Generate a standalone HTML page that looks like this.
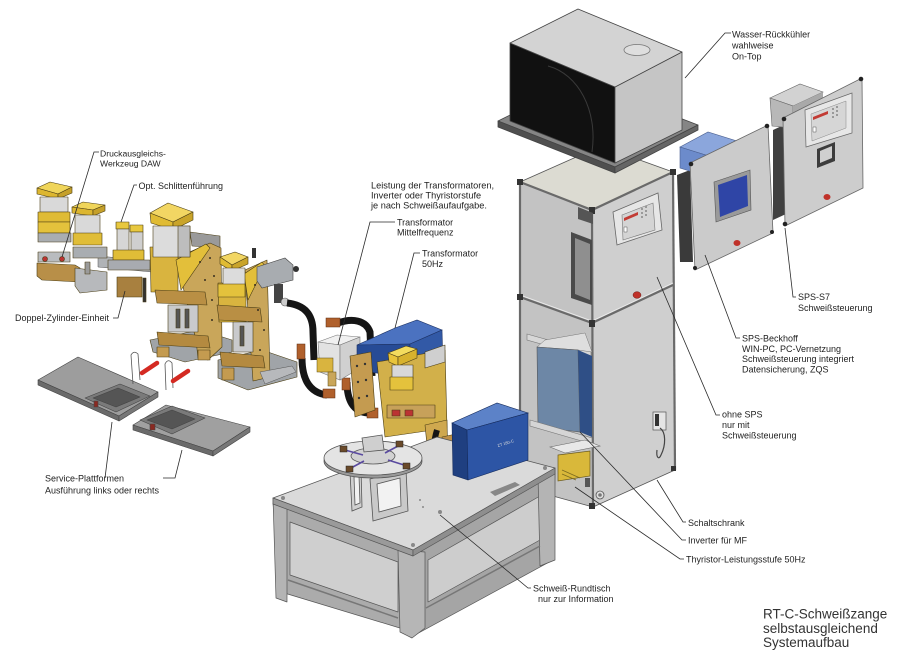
<!DOCTYPE html>
<html><head><meta charset="utf-8"><style>
html,body{margin:0;padding:0;background:#fff;width:900px;height:651px;overflow:hidden}
svg{display:block}
text{font-family:"Liberation Sans",Arial,sans-serif;fill:#1e1e1e;font-size:9px}
</style></head><body>
<svg width="900" height="651" viewBox="0 0 900 651" xmlns="http://www.w3.org/2000/svg">
<rect width="900" height="651" fill="#fff"/>

<!-- ================= CABINET ================= -->
<g stroke="#555" stroke-width="0.8" stroke-linejoin="round">
<polygon points="520,182 601,146 673,172 592,210" fill="#dcdbd2"/>
<polygon points="520,182 592,210 593,507 520,487" fill="#c3c3c3"/>
<polygon points="592,210 673,172 675,470 593,507" fill="#cfcfcf"/>
</g>
<g stroke="#6a6a6a" stroke-width="2.2" fill="none">
<polyline points="520,182 592,210 673,172"/>
<line x1="592" y1="210" x2="593" y2="507"/>
<line x1="520" y1="182" x2="520" y2="487"/>
<line x1="673" y1="172" x2="675" y2="470"/>
<line x1="520" y1="297" x2="592" y2="323"/>
<line x1="592" y1="323" x2="673" y2="285"/>
</g>
<g stroke="#eee" stroke-width="0.7" fill="none">
<line x1="520" y1="295" x2="592" y2="321"/>
<line x1="592" y1="321" x2="673" y2="283"/>
</g>
<g fill="#333">
<rect x="517" y="179" width="6" height="6"/><rect x="589" y="207" width="6" height="7"/>
<rect x="670" y="169" width="6" height="6"/><rect x="517" y="294" width="6" height="6"/>
<rect x="589" y="320" width="6" height="7"/><rect x="589" y="503" width="6" height="6"/>
<rect x="671" y="466" width="5" height="5"/>
</g>
<polygon points="578,207 593,213 593,224 578,219" fill="#555"/>
<polygon points="571,232 592,240 592,305 571,298" fill="#4a4a4a"/>
<polygon points="575,238 590,244 590,300 575,294" fill="#8f8f8f"/>
<polygon points="527,334 591,352 591,358 527,340" fill="#d7d7d7" stroke="#777" stroke-width="0.6"/>
<polygon points="545,340 585,333 592,352 578,350 537,347" fill="#dedede" stroke="#777" stroke-width="0.5"/>
<polygon points="537,347 578,350 580,432 538,427" fill="#6d87a6" stroke="#555" stroke-width="0.6"/>
<polygon points="578,350 592,356 592,437 580,432" fill="#2f4f86"/>
<polygon points="530,420 592,438 592,444 530,426" fill="#d5d5d5" stroke="#777" stroke-width="0.6"/>
<polygon points="550,447 585,440 600,446 565,453" fill="#e8e8e8" stroke="#666" stroke-width="0.6"/>
<polygon points="558,455 590,451 590,476 558,481" fill="#d9b83a" stroke="#6b5a1d" stroke-width="0.7"/>
<g stroke="#7a6a20" stroke-width="0.8"><line x1="562" y1="470" x2="580" y2="478"/><line x1="562" y1="474" x2="576" y2="480"/></g>
<rect x="585" y="478" width="5" height="9" fill="#555"/>
<polygon points="613,212 658,193 662,230 617,245" fill="#e6e6e6" stroke="#666" stroke-width="0.8"/>
<polygon points="622,215 653,203 655,230 623,240" fill="#d4d4d4" stroke="#777" stroke-width="0.6"/>
<polygon points="624,218 638,212 638,215 624,221" fill="#c23b34"/>
<g fill="#999"><rect x="641" y="208" width="2" height="2"/><rect x="645" y="206" width="2" height="2"/><rect x="641" y="212" width="2" height="2"/><rect x="645" y="210" width="2" height="2"/><rect x="641" y="216" width="2" height="2"/><rect x="645" y="214" width="2" height="2"/></g>
<rect x="624" y="227" width="3" height="5" fill="#fff" stroke="#333" stroke-width="0.4"/>
<ellipse cx="637" cy="295" rx="4" ry="3.3" fill="#c0322a" stroke="#6a1a14" stroke-width="0.5"/>
<rect x="653" y="412" width="13" height="18" fill="#e5e5e5" stroke="#555" stroke-width="0.7"/>
<rect x="655" y="414" width="4" height="12" fill="#333"/>
<path d="M660,428 C666,432 666,445 661,455 C659,460 656,458 657,450" stroke="#444" stroke-width="1.2" fill="none"/>
<circle cx="600" cy="495" r="4" fill="#ddd" stroke="#555" stroke-width="0.8"/>
<circle cx="600" cy="495" r="1.8" fill="#777"/>

<!-- ================= CHILLER ================= -->
<g stroke="#444" stroke-width="0.8" stroke-linejoin="round">
<polygon points="498,121 581,80 698,125 615,167" fill="#858585"/>
<polygon points="498,121 615,167 615,173 498,127" fill="#4f4f4f"/>
<polygon points="615,167 698,125 698,130 615,173" fill="#656565"/>
<polygon points="510,43 615,87 615,163 510,121" fill="#111"/>
<polygon points="615,87 682,52 682,130 615,163" fill="#c5c5c5"/>
<polygon points="510,43 578,9 682,52 615,87" fill="#d3d3d3"/>
</g>
<path d="M548,66 C578,74 598,110 592,152" stroke="#3a3a3a" stroke-width="1" fill="none"/>
<ellipse cx="637" cy="50" rx="13" ry="5.5" fill="#dedede" stroke="#777" stroke-width="0.8"/>

<!-- ================= RIGHT PANELS ================= -->
<polygon points="677,175 690,170 693,262 680,262" fill="#3a3a3a"/>
<g stroke="#4a5f90" stroke-width="0.6">
<polygon points="680,147 708,132 740,142 712,157" fill="#8ba6dc"/>
<polygon points="680,147 712,157 712,178 680,168" fill="#6c8bcb"/>
</g>
<polygon points="690,163 768,125 773,233 695,270" fill="#cbcbcb" stroke="#666" stroke-width="0.8"/>
<g fill="#222"><circle cx="691" cy="164" r="2.3"/><circle cx="767" cy="126" r="2.3"/><circle cx="772" cy="232" r="2"/><circle cx="695" cy="268" r="2"/></g>
<polygon points="714,182 750,170 751,210 716,222" fill="#9a9a9a" stroke="#555" stroke-width="0.6"/>
<polygon points="718,185 747,175 748,206 720,217" fill="#2f45a6"/>
<ellipse cx="737" cy="243" rx="3.5" ry="3" fill="#c0322a"/>
<polygon points="773,130 786,124 786,214 773,220" fill="#404040"/>
<polygon points="770,98 800,84 823,92 793,106" fill="#d2d2d2" stroke="#666" stroke-width="0.6"/>
<polygon points="770,98 793,106 793,128 772,126" fill="#b8b8b8" stroke="#666" stroke-width="0.6"/>
<polygon points="793,106 823,92 823,112 793,128" fill="#a9a9a9"/>
<polygon points="783,118 862,78 863,188 785,226" fill="#cdcdcd" stroke="#666" stroke-width="0.8"/>
<g fill="#222"><circle cx="784" cy="119" r="2.3"/><circle cx="861" cy="79" r="2.3"/><circle cx="785" cy="224" r="2.3"/></g>
<polygon points="805,110 852,93 852,133 806,147" fill="#e7e7e7" stroke="#666" stroke-width="0.7"/>
<polygon points="811,114 846,101 846,128 812,141" fill="#d6d6d6" stroke="#888" stroke-width="0.5"/>
<polygon points="813,117 828,111 828,114 813,120" fill="#c23b34"/>
<g fill="#999"><rect x="832" y="108" width="2" height="2"/><rect x="836" y="106" width="2" height="2"/><rect x="832" y="112" width="2" height="2"/><rect x="836" y="110" width="2" height="2"/><rect x="832" y="116" width="2" height="2"/><rect x="836" y="114" width="2" height="2"/></g>
<rect x="813" y="127" width="3" height="5" fill="#fff" stroke="#333" stroke-width="0.4"/>
<polygon points="817,149 835,142 835,161 817,168" fill="#3c3c3c"/>
<polygon points="820,151 832,146 832,158 820,163" fill="#cfcfcf"/>
<ellipse cx="827" cy="197" rx="3.5" ry="3" fill="#c0322a"/>

<!-- ================= SERVICE PLATFORMS ================= -->
<g stroke="#444" stroke-width="0.6" stroke-linejoin="round">
<polygon points="38,380 78,357 158,392 119,416" fill="#9d9d9d"/>
<polygon points="38,380 119,416 119,421 38,385" fill="#6a6a6a"/>
<polygon points="119,416 158,392 158,397 119,421" fill="#777"/>
<polygon points="85,398 120,384 150,396 116,412" fill="#7a7a7a"/>
<polygon points="93,398 118,388 140,397 116,407" fill="#555"/>
<rect x="94" y="401" width="4" height="6" fill="#8a2a22"/>
<polygon points="133,425 166,405 250,427 213,451" fill="#a0a0a0"/>
<polygon points="133,425 213,451 213,456 133,430" fill="#6a6a6a"/>
<polygon points="213,451 250,427 250,432 213,456" fill="#777"/>
<polygon points="140,420 172,406 205,418 172,434" fill="#7a7a7a"/>
<polygon points="147,420 172,410 195,419 172,429" fill="#555"/>
<rect x="150" y="424" width="5" height="6" fill="#8a2a22"/>
</g>
<g fill="none" stroke="#555" stroke-width="0.8">
<path d="M133,384 L131,355 Q134,350 138,354 L140,380"/>
<path d="M166,390 L165,364 Q168,358 172,363 L173,388"/>
</g>
<g stroke="#d42a22" stroke-width="4.5" stroke-linecap="round">
<line x1="142" y1="373" x2="157" y2="363"/>
<line x1="173" y1="381" x2="188" y2="371"/>
</g>

<!-- ================= LEFT TONGS ================= -->
<polygon points="98,256 152,261 152,272 98,267" fill="#b0b3b6" stroke="#555" stroke-width="0.5"/>
<g stroke="#4a3d14" stroke-width="0.6" stroke-linejoin="round">
<!-- unit A -->
<polygon points="37,188 50,182 72,187 58,194" fill="#f0d55a"/>
<polygon points="37,188 58,194 58,199 37,194" fill="#dcb630"/>
<polygon points="58,194 72,187 72,193 58,199" fill="#c5a02a"/>
<rect x="40" y="197" width="28" height="15" fill="#d9d9d9"/>
<rect x="38" y="212" width="32" height="10" fill="#dfbb35"/>
<rect x="38" y="222" width="32" height="11" fill="#e4c23c"/>
<rect x="38" y="233" width="33" height="9" fill="#a9adb1"/>
<rect x="38" y="252" width="32" height="10" fill="#b9bcbf"/>
<polygon points="37,263 75,265 80,268 80,282 42,280 37,276" fill="#b88f48"/>
<circle cx="45" cy="259" r="2.5" fill="#b33"/><circle cx="62" cy="259" r="2.5" fill="#b33"/>
<!-- unit B -->
<polygon points="72,207 83,202 105,205 93,210" fill="#f0d55a"/>
<polygon points="72,207 93,210 93,216 72,213" fill="#dcb630"/>
<polygon points="93,210 105,205 105,211 93,216" fill="#c5a02a"/>
<rect x="75" y="215" width="25" height="19" fill="#d9d9d9"/>
<rect x="73" y="233" width="29" height="12" fill="#e0bd37"/>
<rect x="73" y="247" width="34" height="11" fill="#a9adb1"/>
<polygon points="75,268 107,272 107,290 80,293 75,286" fill="#b7b9bc"/>
<rect x="85" y="262" width="5" height="12" fill="#9a9a9a"/>
<!-- small double -->
<rect x="116" y="222" width="13" height="7" fill="#e8c83f"/>
<rect x="130" y="225" width="13" height="7" fill="#e8c83f"/>
<rect x="117" y="229" width="12" height="22" fill="#d6d6d6"/>
<rect x="131" y="232" width="12" height="19" fill="#cfcfcf"/>
<rect x="113" y="250" width="31" height="10" fill="#e0bd37"/>
<rect x="108" y="260" width="42" height="10" fill="#a8abb0"/>
<rect x="117" y="277" width="25" height="20" fill="#a8803f"/>
<rect x="143" y="278" width="3" height="24" fill="#333"/>
<!-- big tong 1 -->
<polygon points="150,340 200,330 232,340 232,352 185,362 153,352" fill="#a0a4a8"/>
<polygon points="190,232 220,236 220,248 192,246" fill="#9a9a9a"/>
<polygon points="176,258 210,243 221,248 222,347 208,360 198,358 196,340" fill="#c9a65a"/>
<polygon points="150,247 178,247 178,292 151,292" fill="#d9b43f"/>
<polygon points="176,260 206,244 210,248 181,290" fill="#e3bf3a"/>
<polygon points="150,213 168,203 193,212 173,222" fill="#f2d663"/>
<polygon points="150,213 173,222 173,230 151,223" fill="#e0bb33"/>
<polygon points="173,222 193,212 193,220 173,230" fill="#c9a42a"/>
<rect x="153" y="226" width="37" height="31" fill="#dcdcdc"/>
<rect x="178" y="226" width="12" height="31" fill="#bdbdbd"/>
<polygon points="155,290 205,292 207,305 157,303" fill="#b98f44"/>
<rect x="168" y="305" width="30" height="27" fill="#c9cacc"/>
<rect x="176" y="309" width="4" height="19" fill="#555"/>
<rect x="185" y="309" width="4" height="19" fill="#555"/>
<polygon points="157,332 208,336 210,348 159,345" fill="#b48a40"/>
<rect x="157" y="347" width="12" height="10" fill="#c49b50"/>
<rect x="198" y="350" width="12" height="10" fill="#c49b50"/>
<!-- big tong 2 -->
<polygon points="218,360 262,350 297,362 297,377 248,390 218,378" fill="#a0a4a8"/>
<polygon points="245,270 267,260 270,377 253,381" fill="#c9a65a"/>
<polygon points="218,283 246,283 246,322 219,322" fill="#d9b43f"/>
<polygon points="244,274 262,262 265,266 248,300" fill="#e3bf3a"/>
<polygon points="220,257 235,252 248,257 232,265" fill="#f2d663"/>
<polygon points="220,257 232,265 232,271 220,264" fill="#e0bb33"/>
<polygon points="232,265 248,257 248,264 232,271" fill="#c9a42a"/>
<rect x="223" y="268" width="22" height="18" fill="#dcdcdc"/>
<rect x="218" y="284" width="27" height="13" fill="#e4c23c"/>
<polygon points="217,305 260,308 262,322 219,320" fill="#b98f44"/>
<rect x="233" y="322" width="20" height="30" fill="#c9cacc"/>
<rect x="240" y="326" width="4" height="20" fill="#555"/>
<polygon points="220,352 263,356 265,368 222,366" fill="#b48a40"/>
<rect x="222" y="368" width="12" height="12" fill="#c49b50"/>
</g>
<g fill="#3a3020"><circle cx="200" cy="262" r="1"/><circle cx="210" cy="258" r="1"/><circle cx="205" cy="280" r="1"/><circle cx="214" cy="276" r="1"/><circle cx="212" cy="300" r="1"/><circle cx="212" cy="320" r="1"/><circle cx="255" cy="285" r="1"/><circle cx="262" cy="280" r="1"/><circle cx="258" cy="310" r="1"/><circle cx="264" cy="330" r="1"/><circle cx="260" cy="350" r="1"/></g>
<rect x="252" y="248" width="4" height="10" fill="#333"/>
<polygon points="257,267 285,258 293,265 293,280 262,288 257,281" fill="#a8acb0" stroke="#444" stroke-width="0.6"/>
<circle cx="296" cy="269" r="3" fill="#333"/>
<rect x="274" y="284" width="9" height="19" fill="#444"/>
<circle cx="285" cy="302" r="4" fill="#ccc" stroke="#555" stroke-width="0.6"/>

<!-- ================= MIDDLE CABLES / MF TRAFO ================= -->
<g fill="none" stroke="#151515" stroke-width="7" stroke-linecap="butt">
<path d="M287,303 C305,305 313,315 313,332 L314,360"/>
<path d="M302,358 C302,380 310,393 327,395"/>
<path d="M338,323 C352,318 366,320 370,332 L372,376"/>
<path d="M347,382 C347,400 353,412 368,413"/>
</g>
<g fill="#b0602c" stroke="#5a2a10" stroke-width="0.5">
<rect x="297" y="344" width="8" height="15"/>
<rect x="323" y="389" width="12" height="9"/>
<rect x="326" y="318" width="14" height="9"/>
<rect x="367" y="408" width="11" height="10"/>
<rect x="342" y="378" width="8" height="12"/>
</g>
<polygon points="318,342 337,335 360,337 340,345" fill="#f0f0f0" stroke="#777" stroke-width="0.6"/>
<polygon points="318,342 340,345 340,380 320,372" fill="#e2e2e2" stroke="#777" stroke-width="0.6"/>
<polygon points="340,345 360,337 360,368 340,380" fill="#d0d0d0" stroke="#777" stroke-width="0.6"/>
<rect x="317" y="358" width="16" height="14" fill="#d9b43f" stroke="#5a4a14" stroke-width="0.5"/>
<rect x="328" y="372" width="8" height="14" fill="#c9a65a" stroke="#5a4a14" stroke-width="0.5"/>
<polygon points="260,372 292,366 296,372 265,384" fill="#b7b9bc" stroke="#555" stroke-width="0.5"/>

<!-- ================= TABLE TONG ================= -->
<g stroke="#1d3264" stroke-width="0.6">
<polygon points="357,345 395,328 417,320 442,330 410,344" fill="#4b72c0"/>
<polygon points="357,345 410,344 410,378 357,370" fill="#274b96"/>
<polygon points="410,344 442,330 443,365 410,378" fill="#3259a6"/>
</g>
<g stroke="#4a3d14" stroke-width="0.6" stroke-linejoin="round">
<polygon points="350,356 371,352 375,410 355,417" fill="#c49b50"/>
<polygon points="377,362 445,350 447,428 385,437" fill="#d2b04a"/>
<polygon points="388,353 406,346 417,349 398,357" fill="#f3dc5e"/>
<polygon points="388,353 398,357 398,366 389,362" fill="#e8c43a"/>
<polygon points="398,357 417,349 417,358 398,366" fill="#d7b22e"/>
<rect x="392" y="365" width="21" height="14" fill="#d8d8d8"/>
<rect x="390" y="377" width="23" height="13" fill="#e4c23c"/>
<polygon points="425,352 445,345 445,362 425,368" fill="#cfcfcf"/>
<rect x="387" y="405" width="48" height="13" fill="#c7a15a"/>
<rect x="392" y="410" width="8" height="6" fill="#b33"/>
<rect x="405" y="410" width="8" height="6" fill="#b33"/>
<polygon points="425,425 447,420 448,470 430,475" fill="#cfa84f"/>
<polygon points="442,437 465,432 467,495 445,500" fill="#bf9148"/>
</g>
<g fill="#333"><circle cx="357" cy="366" r="1.2"/><circle cx="365" cy="364" r="1.2"/><circle cx="358" cy="382" r="1.2"/><circle cx="366" cy="380" r="1.2"/><circle cx="359" cy="398" r="1.2"/><circle cx="367" cy="396" r="1.2"/><circle cx="449" cy="450" r="1.2"/><circle cx="458" cy="448" r="1.2"/><circle cx="450" cy="466" r="1.2"/><circle cx="459" cy="464" r="1.2"/></g>
<path d="M437,430 C430,452 436,478 447,497" stroke="#151515" stroke-width="6" fill="none"/>
<rect x="443" y="493" width="12" height="8" fill="#b0602c"/>

<!-- ================= TABLE ================= -->
<g stroke="#555" stroke-width="0.7" stroke-linejoin="round">
<polygon points="273,503 413,555 413,632 281,592" fill="#ababab"/>
<polygon points="413,555 555,473 553,560 413,636" fill="#a5a5a5"/>
<polygon points="290,522 398,562 398,612 290,575" fill="#cfcfcf"/>
<polygon points="428,560 540,496 540,540 428,602" fill="#cdcdcd"/>
<polygon points="273,498 287,503 287,602 276,598" fill="#b4b4b4"/>
<polygon points="398,550 425,552 425,628 412,638 400,632" fill="#b6b6b6"/>
<polygon points="538,475 555,468 555,560 540,566" fill="#b4b4b4"/>
<polygon points="273,498 437,437 555,468 413,550" fill="#dadada"/>
<polygon points="273,498 413,550 413,556 273,504" fill="#9a9a9a"/>
<polygon points="413,550 555,468 555,474 413,556" fill="#8e8e8e"/>
</g>
<g stroke="#777" stroke-width="1.5"><line x1="288" y1="580" x2="398" y2="618"/><line x1="426" y1="608" x2="540" y2="546"/></g>
<g fill="#888"><circle cx="283" cy="498" r="2"/><circle cx="413" cy="545" r="2"/><circle cx="545" cy="468" r="2"/><circle cx="440" cy="512" r="2"/><circle cx="420" cy="500" r="1"/><circle cx="423" cy="507" r="1"/></g>

<!-- rotary fixture -->
<g stroke="#555" stroke-width="0.8">
<polygon points="350,472 361,469 362,507 352,511" fill="#d0d0d0"/>
<polygon points="354,477 359,476 360,503 355,505" fill="#f2f2f2"/>
<polygon points="370,479 406,470 408,511 373,521" fill="#c9c9c9"/>
<polygon points="377,484 400,478 401,506 379,512" fill="#f2f2f2"/>
<ellipse cx="373" cy="461" rx="49" ry="17" fill="#9a9a9a"/>
<ellipse cx="373" cy="458" rx="49" ry="17" fill="#e4e4e4"/>
<ellipse cx="373" cy="456" rx="22" ry="8" fill="#d2d2d2"/>
<polygon points="362,438 382,435 384,450 364,452" fill="#cfcfcf"/>
</g>
<g stroke="#5a4aa0" stroke-width="1.6"><line x1="345" y1="450" x2="363" y2="455"/><line x1="398" y1="446" x2="385" y2="453"/><line x1="351" y1="468" x2="364" y2="461"/><line x1="404" y1="465" x2="388" y2="460"/></g>
<g fill="#6a4a2a" stroke="#222" stroke-width="0.5"><rect x="340" y="446" width="7" height="6"/><rect x="396" y="441" width="7" height="6"/><rect x="346" y="466" width="7" height="6"/><rect x="403" y="463" width="7" height="6"/></g>

<!-- blue inverter -->
<g stroke="#152b5c" stroke-width="0.6">
<polygon points="452,423 497,403 528,413 467,430" fill="#5c82c8"/>
<polygon points="452,423 467,430 468,480 453,475" fill="#1f3f80"/>
<polygon points="467,430 528,413 528,460 468,480" fill="#2d55a5"/>
</g>
<text x="0" y="0" transform="translate(498,447) rotate(-17)" style="font-size:4px;fill:#ddd">ZT 180-C</text>
<polygon points="490,492 515,482 520,485 495,496" fill="#888"/>

<!-- ================= LEADER LINES ================= -->
<g stroke="#2a2a2a" stroke-width="0.8" fill="none">
<polyline points="731,33 725,33 685,78"/>
<polyline points="99,152 94,152 62,257"/>
<polyline points="137,185 134,185 121,222"/>
<polyline points="113,318 118,318 125,291"/>
<polyline points="395,222 370,222 338,345"/>
<polyline points="420,253 414,253 395,328"/>
<polyline points="105,478 112,422"/>
<polyline points="163,478 175,478 182,450"/>
<polyline points="796,297 793,297 785,228"/>
<polyline points="740,338 736,338 705,255"/>
<polyline points="720,415 716,415 657,277"/>
<polyline points="686,522 683,522 657,480"/>
<polyline points="686,540 682,540 580,432"/>
<polyline points="684,559 680,559 575,487"/>
<polyline points="531,588 528,588 440,515"/>
</g>

<!-- ================= LABELS ================= -->
<text x="732" y="37.5">Wasser-Rückkühler</text>
<text x="732" y="48.5">wahlweise</text>
<text x="732" y="59.5">On-Top</text>

<text x="100" y="156.5" style="font-size:8.6px">Druckausgleichs-</text>
<text x="100" y="166.5" style="font-size:8.6px">Werkzeug DAW</text>
<text x="138.5" y="189">Opt. Schlittenführung</text>
<text x="15" y="321">Doppel-Zylinder-Einheit</text>

<text x="371" y="188.5" style="font-size:9.2px">Leistung der Transformatoren,</text>
<text x="371" y="198.5" style="font-size:9.2px">Inverter oder Thyristorstufe</text>
<text x="371" y="208.5" style="font-size:9.2px">je nach Schweißaufaufgabe.</text>

<text x="397" y="225.5">Transformator</text>
<text x="397" y="235.5">Mittelfrequenz</text>
<text x="422" y="256.5">Transformator</text>
<text x="422" y="267">50Hz</text>

<text x="45" y="481.5">Service-Plattformen</text>
<text x="45" y="493.5">Ausführung links oder rechts</text>

<text x="798" y="300">SPS-S7</text>
<text x="798" y="311">Schweißsteuerung</text>

<text x="742" y="341.5">SPS-Beckhoff</text>
<text x="742" y="351.8">WIN-PC, PC-Vernetzung</text>
<text x="742" y="362.2">Schweißsteuerung integriert</text>
<text x="742" y="372.5">Datensicherung, ZQS</text>

<text x="722" y="417.5">ohne SPS</text>
<text x="722" y="428">nur mit</text>
<text x="722" y="438.5">Schweißsteuerung</text>

<text x="688" y="526">Schaltschrank</text>
<text x="688" y="543.5">Inverter für MF</text>
<text x="686" y="562.5">Thyristor-Leistungsstufe 50Hz</text>

<text x="533" y="591.5">Schweiß-Rundtisch</text>
<text x="538" y="602">nur zur Information</text>

<text x="763" y="618.5" style="font-size:13.5px;fill:#333">RT-C-Schweißzange</text>
<text x="763" y="633" style="font-size:13.5px;fill:#333">selbstausgleichend</text>
<text x="763" y="647" style="font-size:13.5px;fill:#333">Systemaufbau</text>
</svg>
</body></html>
